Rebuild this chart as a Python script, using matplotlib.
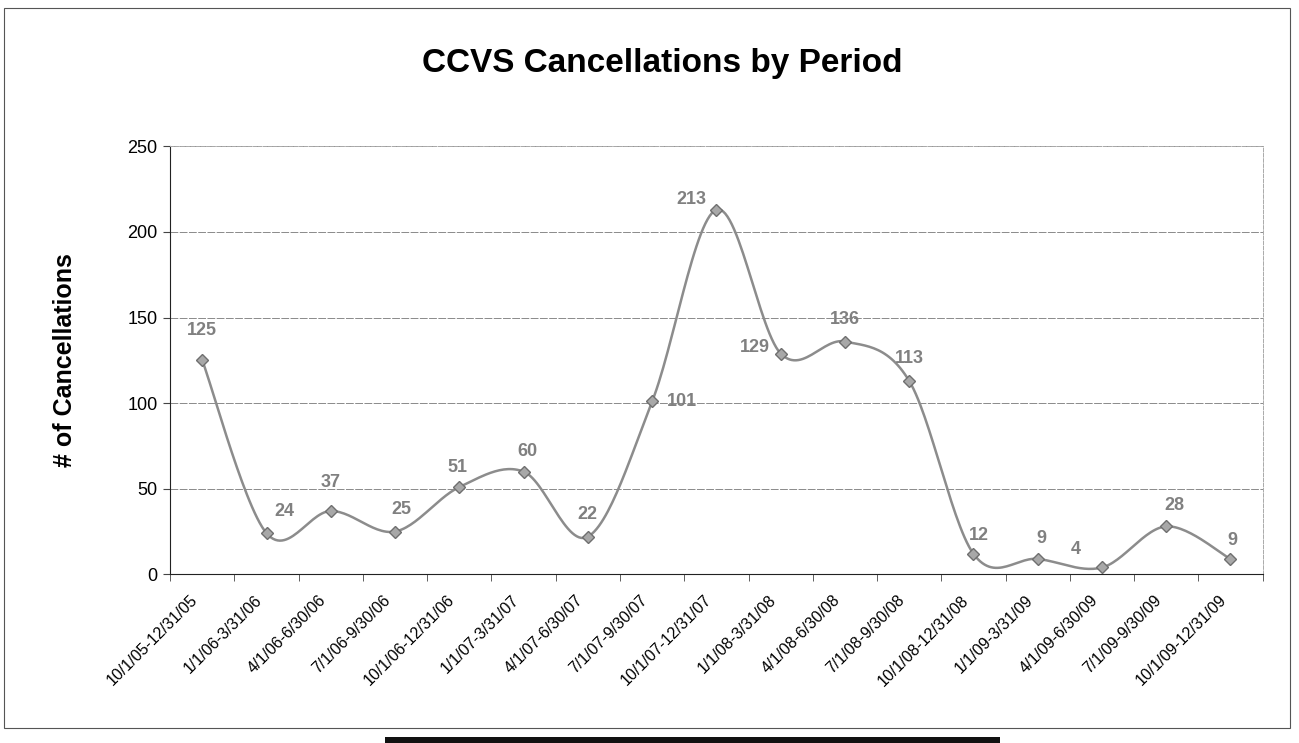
import matplotlib.pyplot as plt
import numpy as np

plt.rcParams['font.family'] = ['Liberation Sans', 'DejaVu Sans']

periods = ['10/1/05-12/31/05', '1/1/06-3/31/06', '4/1/06-6/30/06', '7/1/06-9/30/06',
           '10/1/06-12/31/06', '1/1/07-3/31/07', '4/1/07-6/30/07', '7/1/07-9/30/07',
           '10/1/07-12/31/07', '1/1/08-3/31/08', '4/1/08-6/30/08', '7/1/08-9/30/08',
           '10/1/08-12/31/08', '1/1/09-3/31/09', '4/1/09-6/30/09', '7/1/09-9/30/09',
           '10/1/09-12/31/09']
cancellations = [125, 24, 37, 25, 51, 60, 22, 101, 213, 129, 136, 113, 12, 9, 4, 28, 9]

# data label offsets in pixels (dx, dy)
label_offsets = [(0, 30), (18, 22), (0, 28), (6, 22), (-2, 20), (4, 20), (0, 22), (30, 0),
                 (-25, 10), (-26, 6), (0, 22), (0, 22), (5, 18), (4, 20), (-26, 18), (8, 21), (2, 18)]


def smooth(x, y, n=30):
    # bezier smoothing like excel's smoothed line
    x = np.asarray(x, float)
    y = np.asarray(y, float)
    px = np.concatenate([[x[0]], x, [x[-1]]])
    py = np.concatenate([[y[0]], y, [y[-1]]])
    xs, ys = [], []
    t = np.linspace(0, 1, n)
    for i in range(1, len(px) - 2):
        p0, p1, p2, p3 = (px[i - 1], py[i - 1]), (px[i], py[i]), (px[i + 1], py[i + 1]), (px[i + 2], py[i + 2])
        c1 = (p1[0] + (p2[0] - p0[0]) / 6, p1[1] + (p2[1] - p0[1]) / 6)
        c2 = (p2[0] - (p3[0] - p1[0]) / 6, p2[1] - (p3[1] - p1[1]) / 6)
        for k, pt in enumerate([xs, ys]):
            b = ((1 - t) ** 3 * p1[k] + 3 * (1 - t) ** 2 * t * c1[k]
                 + 3 * (1 - t) * t ** 2 * c2[k] + t ** 3 * p2[k])
            pt.extend(b)
    return xs, ys


fig = plt.figure(figsize=(12.99, 7.43), dpi=100)
# outer chart border
fig.patches.append(plt.Rectangle((0.003, 0.02), 0.99, 0.969, transform=fig.transFigure,
                                 fill=False, edgecolor='#555555', linewidth=0.8))
# dark strip at the bottom of the scan
fig.patches.append(plt.Rectangle((0.296, 0.0), 0.474, 0.008, transform=fig.transFigure,
                                 facecolor='#111111', edgecolor='none'))

ax = fig.add_axes([0.131, 0.227, 0.841, 0.576])

x = np.arange(len(periods))
sx, sy = smooth(x, cancellations)
ax.plot(sx, sy, color='#8c8c8c', linewidth=1.8, zorder=3)
ax.plot(x, cancellations, linestyle='none', marker='D', markersize=6.5,
        markerfacecolor='#a8a8a8', markeredgecolor='#6f6f6f', zorder=4)

for xi, v, (dx, dy) in zip(x, cancellations, label_offsets):
    ax.annotate(str(v), (xi, v), xytext=(dx, dy), textcoords='offset pixels',
                ha='center', va='center', fontsize=13, fontweight='bold', color='#808080')

ax.set_xlim(-0.5, len(periods) - 0.5)
ax.set_ylim(0, 250)
ax.set_yticks(range(0, 251, 50))
# labels sit a little left of the category centre, like the excel original
ax.set_xticks(x - 0.19)
ax.set_xticklabels(periods, rotation=45, ha='right', rotation_mode='anchor', fontsize=11.5)
ax.set_xticks(np.arange(-0.5, len(periods), 1), minor=True)
ax.tick_params(axis='x', which='major', length=0, pad=13)
ax.tick_params(axis='x', which='minor', length=5, color='#444444')
ax.tick_params(axis='y', labelsize=13, length=5, color='#444444', pad=4)
ax.grid(axis='y', color='#8a8a8a', linestyle='--', linewidth=0.7, dashes=(8, 1.5))
ax.set_axisbelow(True)

for side in ['top', 'right']:
    ax.spines[side].set_color('#aaaaaa')
    ax.spines[side].set_linestyle('--')
    ax.spines[side].set_linewidth(0.7)
ax.spines['left'].set_color('#222222')
ax.spines['bottom'].set_color('#222222')

ax.set_ylabel('# of Cancellations', fontsize=18, fontweight='bold', labelpad=36)
fig.suptitle('CCVS Cancellations by Period', fontsize=24, fontweight='bold', x=0.51, y=0.935)

fig.savefig('out.png', dpi=100)
